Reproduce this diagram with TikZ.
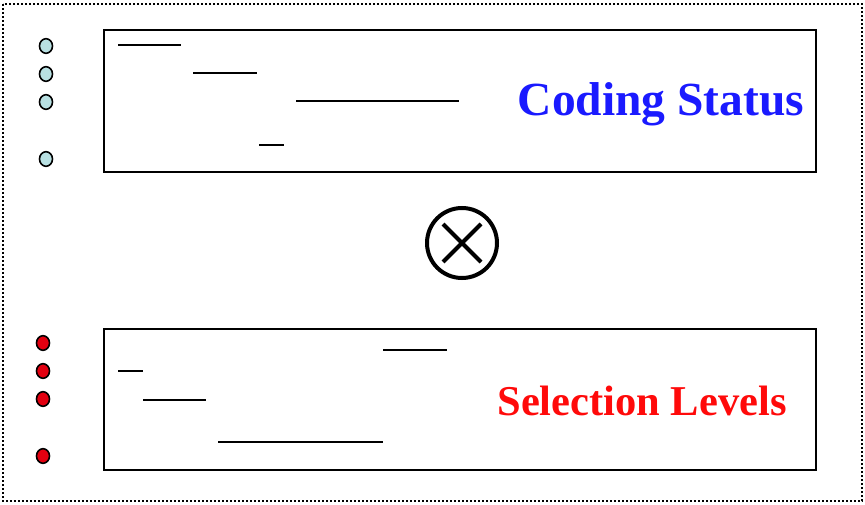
\documentclass[tikz,border=0pt]{standalone}
\usepackage{fontspec}
\setmainfont{Liberation Serif}
\begin{document}
\begin{tikzpicture}[x=1pt,y=-1pt,
  panel/.style={draw=black,line width=2.4pt},
  seg/.style={line width=2.2pt},
  bluedot/.style={ellipse shape dot,fill={rgb,255:red,184;green,224;blue,226}},
  reddot/.style={ellipse shape dot,fill={rgb,255:red,226;green,0;blue,16}},
  ellipse shape dot/.style={draw=black,line width=1.6pt},
  title/.style={font=\bfseries,anchor=base}]
\useasboundingbox (0,0) rectangle (865,505);
\draw[line width=2pt,dash pattern=on 2pt off 2pt] (3,4) rectangle (862,501);

% upper panel
\node[panel,minimum width=712pt,minimum height=142pt,inner sep=0pt] (status) at (460,101) {};
\node[title,text={rgb,255:red,26;green,26;blue,255},font=\bfseries\fontsize{47.5}{50}\selectfont] (statuslbl) at (661,116) {Coding Status};
\draw[seg] (118,45) -- (181,45);
\draw[seg,line width=2.8pt] (193,73) -- (257,73);
\draw[seg] (296,101) -- (459,101);
\draw[seg] (259,145) -- (284,145);
\foreach \y in {46,74,102,159}
  \draw[bluedot] (46,\y) ellipse [x radius=6.5pt,y radius=7.3pt];

% product symbol
\node[circle,draw,line width=4pt,minimum size=70pt,inner sep=0pt] (prod) at (462,243) {};
\draw[line width=4pt] (prod.center) ++(-19,-19) -- ++(38,38);
\draw[line width=4pt] (prod.center) ++(19,-19) -- ++(-38,38);

% lower panel
\node[panel,minimum width=712pt,minimum height=141pt,inner sep=0pt] (levels) at (460,399.5) {};
\node[title,text={rgb,255:red,255;green,10;blue,10},font=\bfseries\fontsize{42.5}{45}\selectfont] (levelslbl) at (642,415) {Selection Levels};
\draw[seg] (383,350) -- (447,350);
\draw[seg] (118,371) -- (143,371);
\draw[seg] (143,400) -- (206,400);
\draw[seg] (218,442) -- (383,442);
\foreach \y in {343,371,399,456}
  \draw[reddot] (43,\y) ellipse [x radius=6.5pt,y radius=7.3pt];
\end{tikzpicture}
\end{document}
